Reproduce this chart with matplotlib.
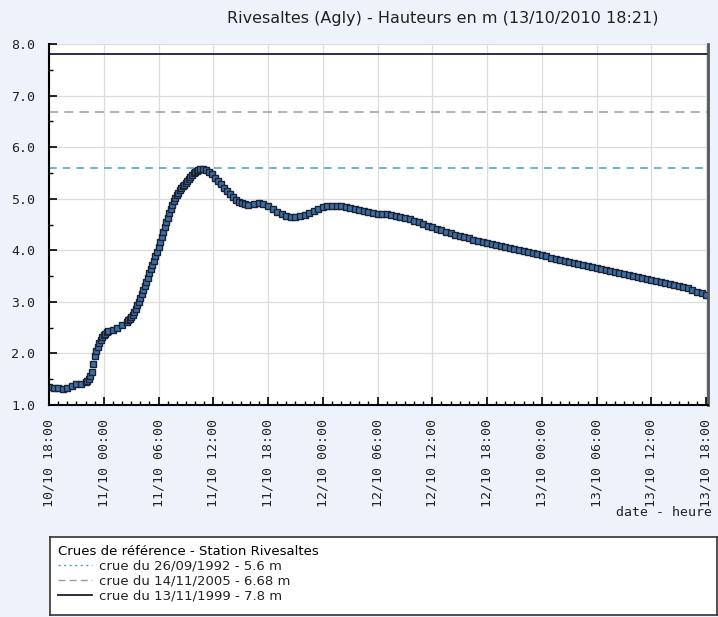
import pandas as pd
import numpy as np
import matplotlib.pyplot as plt
import matplotlib.dates as mdates
from matplotlib.lines import Line2D

# releves : minutes depuis le 10/10/2010 18:00 et hauteur (m)
start = pd.Timestamp('2010-10-10 18:00')
minutes = [
    0, 30, 60, 90, 120, 150, 180, 210, 240,
    250, 260, 270, 280, 290, 300, 310, 320, 330, 340, 350, 360, 370, 380, 390,
    420, 450, 480, 510,
    520, 530, 540, 550, 560, 570, 580, 590, 600, 610, 620, 630, 640, 650, 660, 670,
    680, 690, 700, 710, 720, 730, 740, 750, 760, 770, 780, 790, 800, 810, 820, 830,
    840, 850, 860, 870, 880, 890, 900, 910, 920, 930, 940, 950, 960, 970, 980, 990,
    1010, 1030, 1050, 1070, 1090, 1110, 1130, 1150, 1170, 1190, 1210, 1230, 1250,
    1270, 1290, 1310,
    1350, 1380, 1410, 1440, 1470, 1500, 1530, 1560, 1590, 1620, 1650, 1680, 1710,
    1740, 1770, 1800, 1830, 1860, 1890, 1920, 1950, 1980, 2010, 2040, 2070, 2100,
    2130, 2160, 2190, 2220, 2250, 2280, 2310, 2340, 2370, 2400, 2430, 2460, 2490,
    2520, 2550, 2580, 2610, 2640, 2670, 2700, 2730, 2760, 2790, 2820, 2850, 2880,
    2910, 2940, 2970, 3000, 3030, 3060, 3090, 3120, 3150, 3180, 3210, 3240, 3270,
    3300, 3330, 3360, 3390, 3420, 3450, 3480, 3510, 3540, 3570, 3600, 3630, 3660,
    3690, 3720, 3750, 3780, 3810, 3840, 3870, 3900, 3930, 3960, 3990, 4020, 4050,
    4080, 4110, 4140, 4170, 4200, 4230, 4260, 4290, 4320,
]
heights = [
    1.34, 1.33, 1.32, 1.31, 1.33, 1.36, 1.40, 1.41, 1.44,
    1.47, 1.50, 1.56, 1.64, 1.80, 1.95, 2.05, 2.13, 2.20, 2.26, 2.31, 2.35, 2.38, 2.41, 2.43,
    2.46, 2.50, 2.55, 2.61,
    2.64, 2.67, 2.70, 2.74, 2.80, 2.86, 2.93, 3.00, 3.07, 3.15, 3.23, 3.31, 3.39, 3.47,
    3.55, 3.63, 3.72, 3.80, 3.89, 3.97, 4.06, 4.16, 4.26, 4.36, 4.45, 4.54, 4.63, 4.72,
    4.80, 4.88, 4.95, 5.02, 5.07, 5.12, 5.16, 5.20, 5.24, 5.27, 5.30, 5.34, 5.38, 5.42,
    5.46, 5.50, 5.52, 5.54, 5.56, 5.57,
    5.57, 5.55, 5.52, 5.47, 5.41, 5.35, 5.28, 5.21, 5.15, 5.09, 5.03, 4.98, 4.94,
    4.91, 4.89, 4.88,
    4.89, 4.91, 4.90, 4.86, 4.80, 4.75, 4.70, 4.67, 4.65, 4.65, 4.66, 4.68, 4.72,
    4.76, 4.80, 4.83, 4.85, 4.86, 4.86, 4.85, 4.84, 4.82, 4.80, 4.78, 4.76, 4.74,
    4.72, 4.71, 4.70, 4.70, 4.69, 4.67, 4.65, 4.63, 4.60, 4.57, 4.54, 4.51, 4.48,
    4.45, 4.42, 4.39, 4.36, 4.33, 4.30, 4.28, 4.25, 4.23, 4.20, 4.18, 4.16, 4.14,
    4.12, 4.10, 4.08, 4.06, 4.04, 4.02, 4.00, 3.98, 3.96, 3.94, 3.92, 3.90, 3.88,
    3.86, 3.84, 3.82, 3.80, 3.78, 3.76, 3.74, 3.72, 3.70, 3.68, 3.66, 3.64, 3.62,
    3.60, 3.58, 3.56, 3.54, 3.52, 3.50, 3.48, 3.46, 3.44, 3.42, 3.40, 3.38, 3.36,
    3.34, 3.32, 3.30, 3.28, 3.26, 3.23, 3.20, 3.17, 3.14,
]

crue_labels = ['crue du 26/09/1992 - 5.6 m',
               'crue du 14/11/2005 - 6.68 m',
               'crue du 13/11/1999 - 7.8 m']
crue_values = [5.6, 6.68, 7.8]
crue_colors = ['#4a9fb5', '#9a9aae', '#1c1c3c']

times = start + pd.to_timedelta(minutes, unit='min')

bg = '#eef3fb'
fig = plt.figure(figsize=(7.18, 6.17), dpi=100, facecolor=bg)
ax = fig.add_axes([49/718, 1-405/617, 659/718, 361/617])
ax.set_facecolor('white')

ax.grid(True, which='major', color='#dcdcdc', lw=0.9)
ax.set_axisbelow(True)

ax.axhline(crue_values[0], color=crue_colors[0], ls=(0, (5, 4)), lw=1.1)
ax.axhline(crue_values[1], color=crue_colors[1], ls=(0, (6, 4)), lw=1.1)
ax.axhline(crue_values[2], color=crue_colors[2], ls='-', lw=1.3)

ax.plot(times, heights, ls='none', marker='s', ms=4.0, mfc='#3d6fa3',
        mec='#1a2233', mew=1.0)

ax.set_ylim(1, 8)
ax.set_xlim(start, start + pd.Timedelta(hours=72.2))
ax.yaxis.set_major_locator(plt.MultipleLocator(1))
ax.yaxis.set_minor_locator(plt.MultipleLocator(0.5))
ax.yaxis.set_major_formatter(plt.FormatStrFormatter('%.1f'))
ax.xaxis.set_major_locator(mdates.HourLocator(byhour=[0, 6, 12, 18]))
ax.xaxis.set_minor_locator(mdates.HourLocator())
ax.xaxis.set_major_formatter(mdates.DateFormatter('%d/%m %H:%M'))

ax.tick_params(which='both', direction='in', color='black')
ax.tick_params(which='major', length=6, width=1.2)
ax.tick_params(which='minor', length=3, width=1)
ax.tick_params(axis='x', pad=10)
ax.tick_params(axis='y', pad=10)
for lab in ax.get_xticklabels():
    lab.set_rotation(90)
    lab.set_family('DejaVu Sans Mono')
    lab.set_fontsize(9.5)
    lab.set_color('#222222')
for lab in ax.get_yticklabels():
    lab.set_family('DejaVu Sans Mono')
    lab.set_fontsize(9.5)
    lab.set_color('#222222')

ax.spines['top'].set_visible(False)
ax.spines['left'].set_linewidth(1.5)
ax.spines['bottom'].set_linewidth(1.5)
ax.spines['right'].set_color('#555555')
ax.spines['right'].set_linewidth(2)

fig.text(443/718, 1-18/617, 'Rivesaltes (Agly) - Hauteurs en m (13/10/2010 18:21)',
         ha='center', va='center', fontsize=11.5, color='#222222')
fig.text(712/718, 1-512/617, 'date - heure', ha='right', va='center',
         family='DejaVu Sans Mono', fontsize=9.5, color='#222222')

# boite de legende
lax = fig.add_axes([50/718, 1-615/617, 667/718, 78/617])
lax.set_facecolor('white')
lax.set_xticks([])
lax.set_yticks([])
for s in lax.spines.values():
    s.set_color('#333333')
    s.set_linewidth(1.2)
handles = [Line2D([], [], color=crue_colors[0], ls=(0, (1.5, 2.5)), lw=1),
           Line2D([], [], color=crue_colors[1], ls=(0, (5, 3)), lw=1),
           Line2D([], [], color=crue_colors[2], ls='-', lw=1.3)]
leg = lax.legend(handles, crue_labels, loc='upper left', frameon=False,
                 title='Crues de référence - Station Rivesaltes', alignment='left',
                 fontsize=9.5, title_fontsize=9.5, handlelength=2.6,
                 handletextpad=0.5, labelspacing=0.15, borderaxespad=0.2,
                 borderpad=0.4)
for t in leg.get_texts():
    t.set_color('#222222')

fig.savefig('out.png', dpi=100, facecolor=bg)
